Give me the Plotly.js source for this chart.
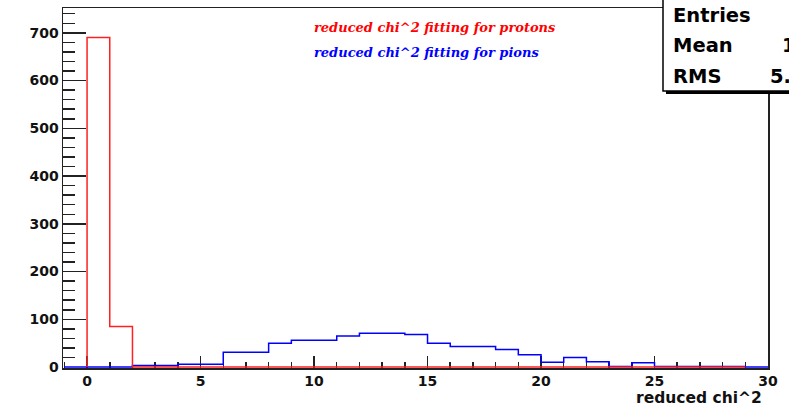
<!DOCTYPE html>
<html>
<head>
<meta charset="utf-8">
<script src="https://cdn.plot.ly/plotly-3.0.1.min.js"></script>
<style>
  html, body { margin: 0; padding: 0; background: #ffffff; }
  #chart { width: 789px; height: 411px; }
</style>
</head>
<body>
<div id="chart"></div>
<script>
// Histogram bin edges (unit-width bins) and counts per bin
const protonEdges = [0, 1, 2, 3, 4, 5, 6, 7, 8, 9, 10, 11, 12, 13, 14, 15, 16, 17, 18, 19, 20, 21, 22, 23, 24, 25, 26, 27, 28, 29];
const protonCounts = [690, 85, 0, 0, 0, 0, 0, 0, 0, 0, 0, 0, 0, 0, 0, 0, 0, 0, 0, 0, 0, 0, 0, 0, 0, 0, 0, 0, 0];

const pionEdges = [-1, 0, 1, 2, 3, 4, 5, 6, 7, 8, 9, 10, 11, 12, 13, 14, 15, 16, 17, 18, 19, 20, 21, 22, 23, 24, 25, 26, 27, 28, 29, 30];
const pionCounts = [0, 0, 0, 3, 3, 6, 6, 31, 31, 50, 56, 56, 65, 71, 71, 68, 50, 43, 43, 37, 26, 10, 20, 11, 1, 9, 1, 1, 1, 1, 0];

const legendLabels = ["reduced chi^2 fitting for protons", "reduced chi^2 fitting for pions"];
const statLabels = ["Entries", "Mean", "RMS"];
const statValues = ["13.2", "5.102"];
const xTitle = "reduced chi^2";

// Turn edges + counts into a closed step outline (ROOT-style histogram line)
function stepOutline(edges, counts) {
  const x = [edges[0]], y = [0];
  for (let i = 0; i < counts.length; i++) { x.push(edges[i]); y.push(counts[i]); }
  x.push(edges[counts.length]); y.push(counts[counts.length - 1]);
  x.push(edges[counts.length]); y.push(0);
  return { x, y };
}

const proton = stepOutline(protonEdges, protonCounts);
const pion = stepOutline(pionEdges, pionCounts);

// Plot-area geometry in pixels, used to place paper-referenced decorations
const W = 789, H = 411, L = 63, R = 21, T = 8, B = 43;
const pw = W - L - R, ph = H - T - B;
const px = v => (v - L) / pw;
const py = v => (H - B - v) / ph;

const tickFont = { family: "DejaVu Sans", weight: "bold", size: 14, color: "#111" };
const legendFont = c => ({ family: "DejaVu Serif", style: "italic", weight: "bold", size: 13, color: c });
const statFont = { family: "DejaVu Sans", weight: "bold", size: 19.5, color: "#000" };

// pions first, protons drawn over them
const traces = [
  { x: pion.x, y: pion.y, type: "scatter", mode: "lines", line: { shape: "hv", color: "#0000ff", width: 1.5 }, hoverinfo: "skip" },
  { x: proton.x, y: proton.y, type: "scatter", mode: "lines", line: { shape: "hv", color: "#ff2020", width: 1.5 }, hoverinfo: "skip" }
];

const layout = {
  width: W, height: H,
  margin: { l: L, r: R, t: T, b: B, pad: 0 },
  paper_bgcolor: "#ffffff", plot_bgcolor: "#ffffff",
  showlegend: false,
  xaxis: {
    range: [-1.06, 30], showgrid: false, zeroline: false,
    showline: true, mirror: true, linecolor: "#222", linewidth: 1.5, layer: "below traces",
    ticks: "inside", ticklen: 12, tickwidth: 1.5, tickcolor: "#222",
    tick0: 0, dtick: 5, tickfont: tickFont,
    minor: { ticks: "inside", ticklen: 6, tickwidth: 1.5, tickcolor: "#222", dtick: 1 }
  },
  yaxis: {
    range: [-2, 752], showgrid: false, zeroline: false,
    showline: true, mirror: true, linecolor: "#222", linewidth: 1.5, layer: "below traces",
    ticks: "inside", ticklen: 23, tickwidth: 1.5, tickcolor: "#222",
    tick0: 0, dtick: 100, tickfont: tickFont,
    minor: { ticks: "inside", ticklen: 12, tickwidth: 1.5, tickcolor: "#222", dtick: 20 }
  },
  shapes: [
    // stats box shadow and frame
    { type: "rect", xref: "paper", yref: "paper", x0: px(666), x1: px(820), y0: py(94), y1: py(-10),
      fillcolor: "#000", line: { width: 0 }, layer: "above" },
    { type: "rect", xref: "paper", yref: "paper", x0: px(663), x1: px(820), y0: py(91), y1: py(-10),
      fillcolor: "#fff", line: { color: "#000", width: 1.5 }, layer: "above" }
  ],
  annotations: [
    { text: legendLabels[0], xref: "paper", yref: "paper", x: px(312), y: py(27.5), xanchor: "left", yanchor: "middle",
      showarrow: false, font: legendFont("#ff0000") },
    { text: legendLabels[1], xref: "paper", yref: "paper", x: px(312), y: py(52), xanchor: "left", yanchor: "middle",
      showarrow: false, font: legendFont("#0000ff") },
    { text: xTitle, xref: "paper", yref: "paper", x: px(764), y: py(398), xanchor: "right", yanchor: "middle",
      showarrow: false, font: { family: "DejaVu Sans", weight: "bold", size: 15.5, color: "#111" } },
    { text: statLabels[0], xref: "paper", yref: "paper", x: px(671), y: py(15.5), xanchor: "left", yanchor: "middle",
      showarrow: false, font: statFont },
    { text: statLabels[1], xref: "paper", yref: "paper", x: px(671), y: py(46), xanchor: "left", yanchor: "middle",
      showarrow: false, font: statFont },
    { text: statLabels[2], xref: "paper", yref: "paper", x: px(671), y: py(76), xanchor: "left", yanchor: "middle",
      showarrow: false, font: statFont },
    { text: statValues[0], xref: "paper", yref: "paper", x: px(780), y: py(46), xanchor: "left", yanchor: "middle",
      showarrow: false, font: statFont },
    { text: statValues[1], xref: "paper", yref: "paper", x: px(768), y: py(76), xanchor: "left", yanchor: "middle",
      showarrow: false, font: statFont }
  ]
};

Plotly.newPlot("chart", traces, layout, { staticPlot: true, displayModeBar: false });
</script>
</body>
</html>
